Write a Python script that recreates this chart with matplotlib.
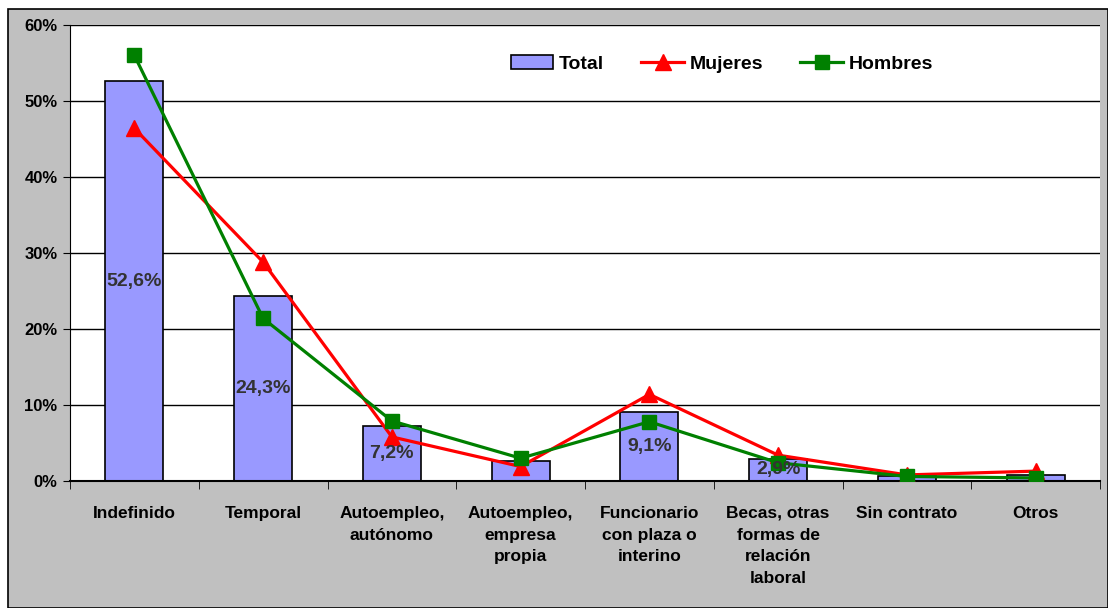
import numpy as np
import matplotlib
matplotlib.use("Agg")
import matplotlib.pyplot as plt
from matplotlib.patches import Rectangle
from matplotlib.ticker import FuncFormatter, FixedLocator

plt.rcParams['font.family'] = ['Liberation Sans', 'DejaVu Sans']

# categories and values (percent)
categorias = ["Indefinido", "Temporal", "Autoempleo,\nautónomo", "Autoempleo,\nempresa\npropia",
              "Funcionario\ncon plaza o\ninterino", "Becas, otras\nformas de\nrelación\nlaboral",
              "Sin contrato", "Otros"]
total = [52.6, 24.3, 7.2, 2.6, 9.1, 2.9, 0.6, 0.8]
mujeres = [46.4, 28.8, 5.8, 1.9, 11.4, 3.4, 0.8, 1.3]
hombres = [56.0, 21.4, 7.9, 3.0, 7.8, 2.4, 0.6, 0.4]
etiquetas = ["52,6%", "24,3%", "7,2%", "", "9,1%", "2,9%", "", ""]

x = np.arange(len(categorias))

fig = plt.figure(figsize=(11.08, 6.08), dpi=100)
fig.patch.set_facecolor("white")
# grey chart area with border
fondo = Rectangle((8 / 1108, 0), 1 - 8 / 1108, 1 - 9 / 608, transform=fig.transFigure,
                  facecolor="#C0C0C0", edgecolor="black", linewidth=1.2, zorder=-10)
fig.add_artist(fondo)

ax = fig.add_axes([70 / 1108, 127 / 608, 1030 / 1108, 456 / 608])
ax.set_facecolor("white")

b = ax.bar(x, total, width=0.45, color="#9999FF", edgecolor="black", linewidth=1.2, label="Total", zorder=2)
lm, = ax.plot(x, mujeres, color="red", linewidth=2.3, marker="^", markersize=11, label="Mujeres", zorder=3)
lh, = ax.plot(x, hombres, color="green", linewidth=2.3, marker="s", markersize=10, label="Hombres", zorder=4)

for xi, v, t in zip(x, total, etiquetas):
    if t:
        ax.text(xi, v / 2, t, ha="center", va="center", fontsize=14, fontweight="bold",
                color="#333333", zorder=5)

ax.set_xlim(-0.5, len(categorias) - 0.5)
ax.set_ylim(0, 60)
ax.set_yticks(np.arange(0, 61, 10))
ax.yaxis.set_major_formatter(FuncFormatter(lambda v, p: f"{v:.0f}%"))
ax.yaxis.grid(True, color="black", linewidth=1)
ax.set_axisbelow(True)

ax.set_xticks(x)
ax.set_xticklabels(categorias, fontsize=12.5, fontweight="bold", linespacing=1.55, va="top")
ax.tick_params(axis="x", length=0, pad=18)
ax.xaxis.set_minor_locator(FixedLocator(np.arange(-0.5, len(categorias), 1)))
ax.tick_params(axis="x", which="minor", length=6, direction="out", color="black")
ax.tick_params(axis="y", length=5, direction="out", labelsize=12, pad=4)
for lbl in ax.get_yticklabels():
    lbl.set_fontweight("bold")

ax.spines["top"].set_visible(False)
ax.spines["right"].set_visible(False)
ax.spines["left"].set_color("black")
ax.spines["bottom"].set_color("black")
ax.spines["bottom"].set_linewidth(1.5)

ax.legend([b, lm, lh], ["Total", "Mujeres", "Hombres"], loc="center", bbox_to_anchor=(0.633, 0.914),
          ncol=3, frameon=False, prop={"weight": "bold", "size": 14}, handlelength=2.2,
          columnspacing=1.9, handletextpad=0.3)

fig.savefig("out.png", dpi=100)
